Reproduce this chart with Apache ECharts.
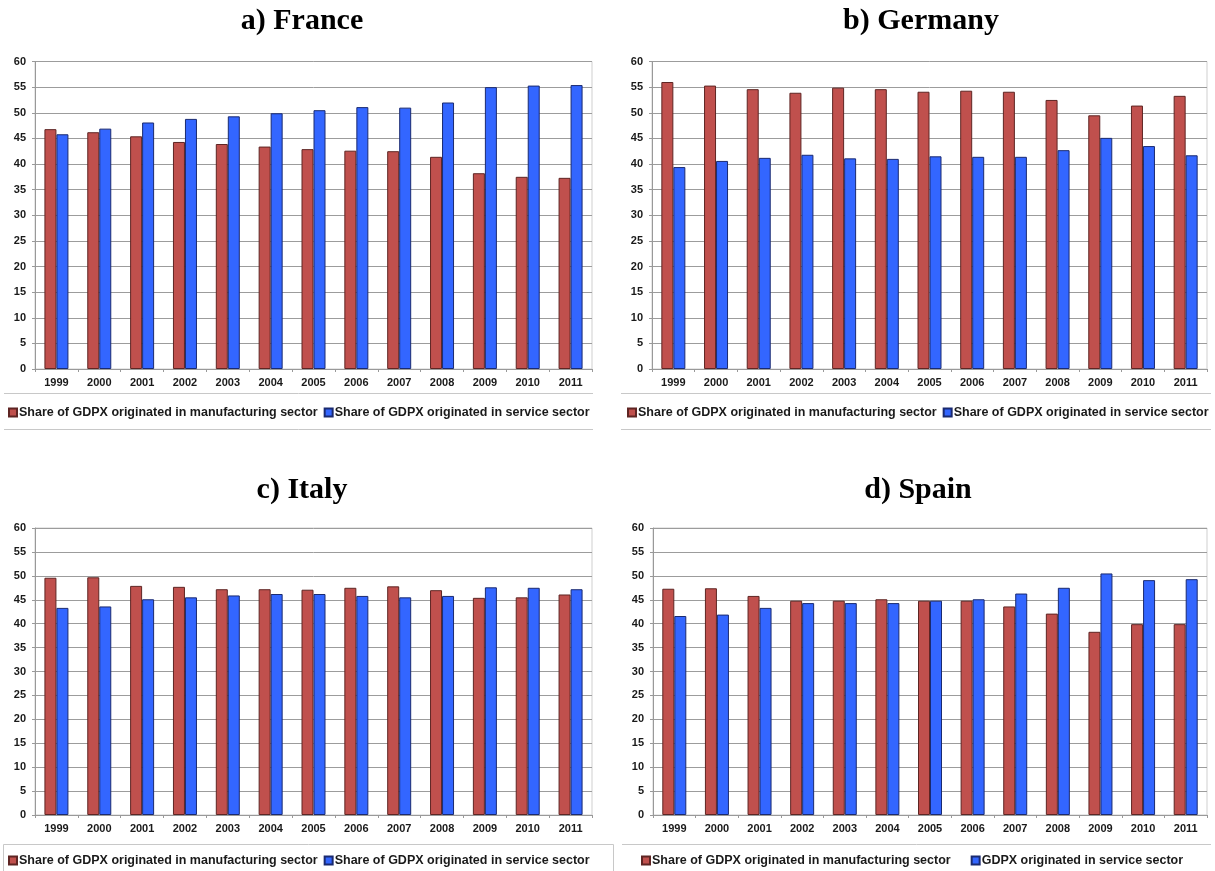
<!DOCTYPE html>
<html><head><meta charset="utf-8">
<script src="https://cdn.jsdelivr.net/npm/echarts@6/dist/echarts.min.js"></script>
<style>html,body{margin:0;padding:0;background:#fff}#c{width:1215px;height:871px}</style>
</head><body><div id="c"></div>
<script>
const years = ['1999','2000','2001','2002','2003','2004','2005','2006','2007','2008','2009','2010','2011'];
const yTicks = [0, 60, 5]; // min, max, interval

const franceManufacturing = [46.8, 46.2, 45.4, 44.3, 43.9, 43.4, 42.9, 42.6, 42.5, 41.4, 38.2, 37.5, 37.3];
const franceServices      = [45.8, 46.9, 48.1, 48.8, 49.3, 49.9, 50.5, 51.1, 51.0, 52.0, 55.0, 55.3, 55.4];
const germanyManufacturing = [56.0, 55.3, 54.6, 53.9, 54.9, 54.6, 54.1, 54.3, 54.1, 52.5, 49.5, 51.4, 53.3];
const germanyServices      = [39.4, 40.6, 41.2, 41.8, 41.1, 41.0, 41.5, 41.4, 41.4, 42.7, 45.1, 43.5, 41.7];
const italyManufacturing = [49.6, 49.7, 47.9, 47.7, 47.2, 47.2, 47.1, 47.5, 47.8, 47.0, 45.4, 45.5, 46.1];
const italyServices      = [43.3, 43.6, 45.1, 45.5, 45.9, 46.2, 46.2, 45.8, 45.5, 45.8, 47.6, 47.5, 47.2];
const spainManufacturing = [47.3, 47.4, 45.8, 44.8, 44.8, 45.1, 44.8, 44.8, 43.6, 42.1, 38.3, 39.9, 39.9];
const spainServices      = [41.6, 41.9, 43.3, 44.3, 44.3, 44.3, 44.8, 45.1, 46.3, 47.5, 50.5, 49.1, 49.3];

const titles = ['a) France', 'b) Germany', 'c) Italy', 'd) Spain'];
const nameManu = 'Share of GDPX originated in manufacturing sector';
const nameServ = 'Share of GDPX originated in service sector';
const nameServSpain = 'GDPX originated in service sector';

const RED = '#C0504D', RED_B = '#5e2523';
const BLUE = '#3366FF', BLUE_B = '#1a2a70';
const LBL = '"Liberation Sans", Arial, sans-serif';

const grids = [
  {left: 35,  top: 61.5, width: 557, height: 307.5},
  {left: 652, top: 61.5, width: 555, height: 307.5},
  {left: 35,  top: 528,  width: 557, height: 287},
  {left: 653, top: 528,  width: 554, height: 287}
];
const titlePos = [[297, 1], [916, 1], [297, 470], [913, 470]];
const legendPos = [[8, 406], [627, 406], [8, 854], [641, 854]];
const panels = [
  [franceManufacturing, franceServices, nameServ],
  [germanyManufacturing, germanyServices, nameServ],
  [italyManufacturing, italyServices, nameServ],
  [spainManufacturing, spainServices, nameServSpain]
];

const option = {
  animation: false,
  backgroundColor: '#fff',
  title: titles.map((t, i) => ({
    text: t, left: titlePos[i][0], top: titlePos[i][1], textAlign: 'center',
    textStyle: {fontFamily: '"Liberation Serif", "Times New Roman", serif', fontWeight: 'bold', fontSize: 30, color: '#000'}
  })),
  grid: grids.map(g => Object.assign({show: true, borderColor: '#cfcfcf', borderWidth: 1, backgroundColor: 'transparent'}, g)),
  legend: panels.map((p, i) => ({
    left: legendPos[i][0], top: legendPos[i][1], width: 620, padding: 0,
    data: [nameManu, p[2]],
    icon: 'rect', itemWidth: 8, itemHeight: 8, itemGap: i === 3 ? 20 : 6,
    textStyle: {fontFamily: LBL, fontWeight: 'bold', fontSize: 12.5, color: '#1a1a1a', padding: [0, 0, 0, -3]},
    selectedMode: false
  })),
  xAxis: grids.map((g, i) => ({
    type: 'category', gridIndex: i, data: years,
    axisLine: {lineStyle: {color: '#999'}},
    axisTick: {show: true, length: 3, lineStyle: {color: '#999'}},
    axisLabel: {fontFamily: LBL, fontWeight: 'bold', fontSize: 11, color: '#1a1a1a', margin: 8}
  })),
  yAxis: grids.map((g, i) => ({
    type: 'value', gridIndex: i, min: yTicks[0], max: yTicks[1], interval: yTicks[2],
    axisLine: {show: true, lineStyle: {color: '#999'}},
    axisTick: {show: true, length: 3, lineStyle: {color: '#999'}},
    splitLine: {lineStyle: {color: '#9c9c9c', width: 1}},
    axisLabel: {fontFamily: LBL, fontWeight: 'bold', fontSize: 11, color: '#1a1a1a', margin: 9}
  })),
  series: [],
  graphic: [
    {type: 'line', shape: {x1: 4, y1: 393.5, x2: 593, y2: 393.5}, style: {stroke: '#c8c8c8', lineWidth: 1}},
    {type: 'line', shape: {x1: 4, y1: 429.5, x2: 593, y2: 429.5}, style: {stroke: '#c8c8c8', lineWidth: 1}},
    {type: 'line', shape: {x1: 621, y1: 393.5, x2: 1211, y2: 393.5}, style: {stroke: '#c8c8c8', lineWidth: 1}},
    {type: 'line', shape: {x1: 621, y1: 429.5, x2: 1211, y2: 429.5}, style: {stroke: '#c8c8c8', lineWidth: 1}},
    {type: 'rect', shape: {x: 3.5, y: 844.5, width: 610, height: 40}, style: {fill: 'none', stroke: '#c8c8c8', lineWidth: 1}},
    {type: 'line', shape: {x1: 622, y1: 844.5, x2: 1211, y2: 844.5}, style: {stroke: '#c8c8c8', lineWidth: 1}}
  ]
};

panels.forEach((p, i) => {
  option.series.push({
    type: 'bar', name: nameManu, xAxisIndex: i, yAxisIndex: i, data: p[0],
    barWidth: 12, barGap: '0%',
    itemStyle: {color: RED, borderColor: RED_B, borderWidth: 1}
  });
  option.series.push({
    type: 'bar', name: p[2], xAxisIndex: i, yAxisIndex: i, data: p[1],
    barWidth: 12, barGap: '0%',
    itemStyle: {color: BLUE, borderColor: BLUE_B, borderWidth: 1}
  });
});

const chart = echarts.init(document.getElementById('c'), null, {renderer: 'canvas'});
chart.setOption(option);
</script>
</body></html>
